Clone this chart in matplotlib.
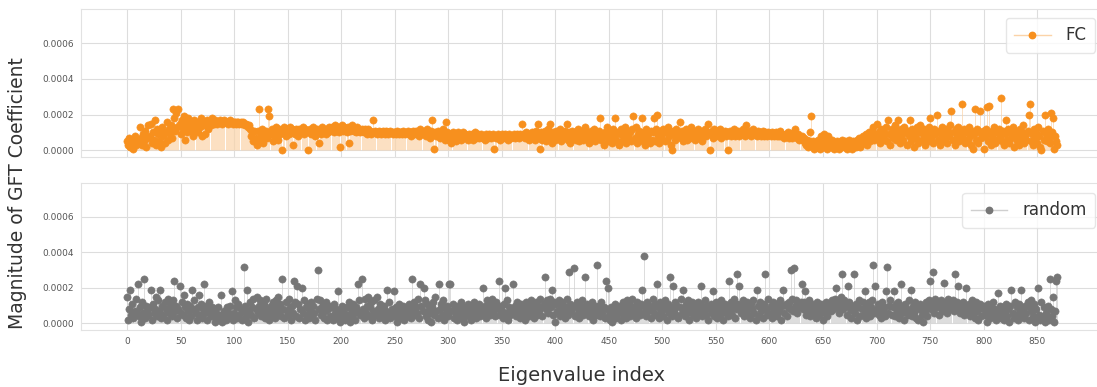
import matplotlib
matplotlib.use("Agg")
import matplotlib.pyplot as plt
from matplotlib.lines import Line2D
import numpy as np

# GFT coefficient magnitudes, in units of 1e-5
fc_vals = [
    5, 3, 7, 2, 6, 4, 1, 8, 3, 5,  6, 4, 13, 7, 3, 9, 5, 11, 2, 7,
    14, 8, 15, 4, 10, 6, 17, 3, 12, 9,  5, 11, 2, 13, 8, 4, 10, 16, 6, 12,
    9, 14, 7, 23, 18, 11, 21, 13, 23, 15,  9, 17, 12, 19, 6, 15, 10, 18, 13, 16,
    11, 14, 8, 17, 12, 15, 10, 16, 13, 18,  8, 14, 16, 9, 15, 17, 12, 16, 14, 18,
    16, 15, 17, 16, 15, 16, 16, 17, 16, 15,  16, 17, 16, 16, 15, 16, 17, 16, 16, 15,
    16, 16, 15, 16, 16, 15, 16, 15, 16, 15,  14, 15, 14, 13, 14, 12, 8, 10, 5, 11,
    7, 3, 11, 23, 6, 9, 12, 4, 10, 8,  11, 7, 23, 19, 9, 12, 5, 10, 8, 13,
    10, 6, 12, 9, 11, 0, 10, 13, 8, 12,  11, 9, 13, 10, 12, 3, 11, 9, 12, 10,
    8, 12, 10, 11, 13, 9, 12, 10, 11, 0,  10, 12, 9, 11, 13, 10, 8, 12, 11, 4,
    11, 9, 13, 10, 12, 11, 9, 12, 10, 13,  11, 13, 12, 10, 14, 12, 11, 13, 10, 2,
    12, 14, 11, 13, 12, 10, 13, 4, 11, 12,  14, 13, 11, 12, 10, 13, 12, 11, 10, 12,
    11, 10, 12, 11, 9, 12, 10, 11, 9, 10,  17, 10, 11, 9, 10, 11, 10, 9, 10, 11,
    10, 9, 11, 10, 9, 10, 11, 10, 9, 10,  10, 9, 11, 10, 9, 10, 10, 9, 11, 10,
    9, 10, 11, 9, 10, 8, 10, 11, 9, 10,  11, 9, 10, 8, 12, 10, 9, 11, 10, 8,
    12, 9, 10, 7, 11, 17, 9, 1, 10, 8,  11, 9, 7, 10, 8, 12, 9, 6, 16, 10,
    8, 6, 9, 4, 10, 7, 9, 5, 8, 10,  7, 9, 6, 8, 10, 7, 9, 8, 6, 9,
    8, 7, 9, 6, 8, 10, 7, 8, 9, 7,  8, 9, 7, 8, 6, 9, 8, 7, 9, 8,
    7, 8, 9, 1, 8, 7, 9, 8, 6, 8,  9, 7, 8, 9, 7, 8, 6, 9, 8, 7,
    8, 9, 7, 8, 9, 8, 7, 9, 8, 15,  8, 9, 7, 10, 8, 6, 9, 8, 10, 7,
    9, 6, 11, 8, 15, 7, 1, 10, 6, 9,  11, 5, 8, 12, 7, 15, 9, 4, 10, 8,
    6, 11, 9, 7, 12, 5, 9, 10, 7, 11,  8, 15, 6, 10, 4, 9, 11, 7, 10, 6,
    9, 12, 5, 10, 8, 11, 6, 9, 13, 7,  10, 4, 8, 11, 6, 9, 12, 5, 10, 8,
    7, 11, 18, 6, 9, 3, 10, 8, 13, 5,  11, 7, 9, 4, 12, 8, 18, 6, 10, 3,
    9, 12, 5, 10, 7, 13, 4, 11, 8, 6,  10, 5, 12, 19, 7, 13, 4, 9, 11, 6,
    8, 18, 5, 10, 3, 12, 7, 9, 4, 11,  6, 10, 18, 5, 12, 20, 8, 4, 11, 7,
    9, 12, 5, 10, 6, 13, 8, 11, 3, 0,  9, 11, 6, 12, 8, 10, 16, 7, 11, 5,
    10, 8, 12, 6, 9, 11, 7, 13, 8, 10,  6, 11, 9, 12, 7, 8, 10, 5, 11, 9,
    12, 8, 10, 15, 0, 9, 11, 7, 12, 10,  8, 11, 9, 10, 12, 7, 10, 9, 11, 8,
    10, 0, 9, 11, 8, 10, 9, 12, 8, 10,  9, 11, 8, 10, 9, 12, 10, 8, 14, 9,
    10, 9, 11, 8, 10, 12, 9, 10, 8, 11,  9, 10, 8, 9, 11, 8, 10, 9, 8, 10,
    9, 8, 10, 9, 8, 9, 10, 8, 9, 8,  11, 8, 9, 8, 7, 9, 8, 10, 7, 8,
    9, 7, 8, 10, 12, 8, 7, 9, 6, 7,  8, 6, 7, 4, 3, 6, 2, 5, 10, 19,
    3, 5, 1, 4, 2, 6, 3, 1, 8, 4,  2, 9, 3, 5, 1, 8, 4, 2, 6, 3,
    1, 4, 2, 5, 3, 1, 4, 2, 6, 3,  2, 5, 1, 3, 6, 2, 4, 1, 5, 3,
    4, 2, 6, 3, 7, 2, 5, 8, 4, 6,  9, 3, 7, 10, 5, 8, 11, 13, 6, 9,
    15, 7, 10, 4, 12, 8, 11, 6, 9, 13,  5, 17, 9, 3, 12, 7, 10, 14, 6, 11,
    17, 8, 4, 12, 9, 6, 13, 10, 3, 11,  8, 17, 5, 12, 9, 2, 11, 7, 13, 4,
    10, 14, 6, 9, 12, 3, 8, 11, 5, 13,  18, 7, 10, 4, 12, 9, 20, 6, 11, 3,
    9, 13, 5, 10, 7, 12, 4, 11, 8, 14,  22, 6, 10, 3, 12, 8, 13, 5, 9, 11,
    26, 7, 12, 4, 10, 6, 13, 8, 3, 11,  1, 9, 23, 6, 12, 4, 10, 22, 7, 11,
    1, 8, 12, 24, 5, 25, 9, 3, 11, 7,  13, 4, 10, 6, 12, 8, 29, 5, 11, 3,
    9, 17, 6, 12, 4, 10, 7, 13, 2, 8,  11, 5, 9, 3, 12, 7, 10, 14, 4, 8,
    6, 11, 20, 26, 5, 9, 3, 12, 7, 10,  4, 13, 8, 2, 0, 11, 6, 20, 9, 5,
    12, 7, 4, 21, 10, 18, 1, 8, 5, 3,
]

random_vals = [
    15, 2, 8, 19, 5, 11, 3, 7, 14, 6,  22, 4, 9, 1, 12, 6, 25, 3, 10, 7,
    5, 9, 19, 2, 11, 6, 8, 15, 4, 13,  7, 19, 3, 10, 5, 12, 8, 2, 14, 6,
    9, 11, 4, 13, 24, 7, 10, 3, 8, 21,  6, 12, 5, 16, 9, 3, 11, 7, 2, 10,
    4, 19, 8, 13, 6, 2, 9, 16, 5, 11,  3, 8, 22, 6, 10, 2, 7, 12, 4, 9,
    5, 8, 1, 6, 3, 9, 2, 5, 16, 1,  4, 7, 2, 9, 3, 6, 10, 4, 18, 2,
    6, 13, 9, 3, 11, 5, 8, 2, 7, 32,  10, 4, 19, 1, 7, 12, 5, 9, 14, 3,
    8, 15, 6, 10, 13, 4, 9, 7, 11, 3,  14, 6, 8, 2, 10, 5, 12, 7, 3, 13,
    9, 15, 6, 11, 4, 25, 8, 3, 12, 7,  5, 14, 9, 2, 10, 6, 24, 12, 4, 21,
    11, 3, 8, 20, 6, 13, 2, 9, 5, 11,  3, 7, 12, 4, 10, 6, 2, 14, 30, 8,
    13, 5, 9, 11, 3, 7, 12, 2, 8, 10,  4, 9, 2, 11, 6, 8, 3, 18, 5, 1,
    7, 10, 3, 6, 2, 9, 5, 12, 1, 8,  4, 11, 6, 2, 9, 7, 22, 13, 5, 25,
    8, 3, 14, 6, 10, 15, 4, 9, 12, 2,  7, 13, 5, 15, 8, 3, 11, 6, 9, 4,
    10, 2, 7, 19, 5, 12, 3, 8, 6, 18,  4, 9, 1, 7, 11, 3, 8, 5, 10, 2,
    6, 9, 4, 11, 7, 3, 25, 8, 12, 5,  9, 6, 14, 3, 22, 10, 7, 20, 13, 4,
    11, 2, 8, 6, 1, 9, 12, 5, 15, 7,  3, 22, 8, 11, 5, 13, 2, 9, 6, 10,
    4, 22, 22, 7, 11, 3, 9, 6, 2, 10,  5, 8, 12, 3, 7, 1, 9, 4, 11, 6,
    8, 2, 10, 5, 12, 7, 3, 9, 6, 11,  4, 8, 20, 6, 10, 3, 13, 7, 9, 5,
    11, 14, 6, 9, 4, 12, 8, 24, 5, 10,  7, 3, 11, 20, 6, 13, 2, 9, 5, 8,
    22, 7, 10, 4, 12, 6, 9, 3, 11, 8,  5, 10, 2, 12, 7, 4, 9, 13, 6, 11,
    3, 8, 12, 5, 10, 7, 14, 9, 4, 11,  26, 8, 13, 6, 10, 14, 9, 19, 5, 12,
    1, 11, 7, 13, 4, 9, 12, 6, 10, 3,  8, 14, 5, 29, 11, 7, 10, 31, 4, 9,
    12, 6, 3, 10, 8, 13, 5, 9, 26, 7,  11, 4, 9, 6, 12, 2, 8, 10, 5, 33,
    7, 10, 4, 12, 6, 9, 3, 24, 8, 20,  5, 2, 9, 1, 7, 4, 11, 3, 8, 6,
    10, 2, 7, 12, 5, 9, 3, 13, 6, 11,  4, 8, 14, 6, 10, 3, 12, 7, 9, 5,
    11, 19, 6, 38, 9, 4, 12, 7, 10, 3,  8, 14, 6, 11, 5, 22, 9, 3, 12, 7,
    10, 4, 13, 8, 2, 11, 6, 26, 9, 4,  21, 7, 12, 5, 10, 3, 9, 14, 6, 19,
    8, 4, 11, 6, 13, 2, 9, 7, 12, 5,  10, 3, 8, 12, 6, 11, 21, 4, 9, 7,
    13, 5, 10, 2, 8, 11, 6, 18, 4, 9,  12, 3, 7, 10, 5, 13, 8, 2, 11, 6,
    9, 4, 24, 7, 12, 5, 10, 14, 3, 8,  28, 11, 21, 6, 9, 13, 4, 10, 7, 12,
    5, 9, 3, 11, 8, 13, 6, 2, 19, 10,  4, 12, 7, 9, 3, 11, 28, 8, 5, 14,
    6, 10, 3, 12, 8, 5, 11, 4, 9, 7,  13, 2, 10, 19, 6, 11, 4, 9, 12, 8,
    30, 14, 7, 31, 10, 13, 6, 11, 9, 12,  22, 8, 12, 18, 5, 10, 7, 13, 4, 9,
    11, 6, 10, 3, 12, 8, 5, 9, 11, 7,  2, 10, 6, 12, 4, 9, 11, 7, 13, 8,
    10, 14, 20, 9, 12, 6, 11, 15, 28, 8,  13, 10, 5, 21, 12, 8, 3, 10, 7, 28,
    6, 11, 2, 9, 13, 4, 8, 12, 5, 18,  3, 10, 7, 12, 4, 9, 13, 33, 6, 21,
    8, 11, 5, 10, 3, 12, 7, 9, 4, 18,  32, 6, 10, 13, 5, 9, 18, 4, 11, 7,
    12, 3, 9, 22, 6, 10, 2, 11, 8, 5,  13, 7, 19, 4, 10, 6, 12, 3, 9, 2,
    8, 11, 5, 1, 10, 7, 12, 4, 9, 13,  24, 8, 11, 29, 6, 14, 9, 12, 5, 10,
    13, 7, 11, 23, 9, 12, 6, 14, 10, 8,  11, 13, 7, 28, 10, 12, 21, 9, 6, 11,
    8, 12, 5, 10, 20, 7, 11, 4, 9, 13,  6, 10, 3, 12, 7, 2, 9, 11, 4, 8,
    10, 5, 8, 1, 11, 6, 3, 9, 7, 12,  4, 8, 2, 17, 6, 10, 3, 9, 5, 2,
    7, 11, 4, 8, 1, 10, 19, 6, 3, 12,  5, 9, 2, 11, 7, 19, 4, 8, 3, 10,
    6, 12, 2, 9, 13, 7, 4, 11, 1, 8,  3, 20, 5, 2, 12, 4, 9, 1, 6, 3,
    10, 2, 25, 8, 4, 15, 1, 7, 24, 26,
]

series_labels = ["FC", "random"]
series_colors = ["#f7901e", "#767676"]
stem_colors = ["#fbd3a8", "#cfcfcf"]
xtick_vals = list(range(0, 851, 50))
ytick_vals = [0, 0.0002, 0.0004, 0.0006]

fig = plt.figure(figsize=(10.97, 3.87), dpi=100)
ax_top = fig.add_axes([0.0734, 0.5943, 0.933, 0.3824])
ax_bot = fig.add_axes([0.0734, 0.1473, 0.933, 0.3798])

legend_y = [1 - 18 / 387, 1 - 193 / 387]

for ax, vals, label, col, scol, ly in zip(
        [ax_top, ax_bot], [fc_vals, random_vals], series_labels,
        series_colors, stem_colors, legend_y):
    y = np.array(vals) * 1e-5
    x = np.arange(len(y))
    ax.vlines(x, 0, y, color=scol, lw=0.5, zorder=2)
    ax.plot(x, y, 'o', color=col, markersize=5.2, markeredgewidth=0.4,
            zorder=3)

    ax.set_xlim(-0.05 * (len(y) - 1), 1.05 * (len(y) - 1))
    ax.set_ylim(-0.000037, 0.00079)
    ax.set_xticks(xtick_vals)
    ax.set_yticks(ytick_vals)
    ax.set_yticklabels(["%.4f" % v for v in ytick_vals])
    ax.grid(True, color="#dddddd", lw=0.8)
    ax.set_axisbelow(True)
    for s in ax.spines.values():
        s.set_color("#e2e2e2")
        s.set_linewidth(0.8)
    ax.tick_params(length=0, labelsize=6.5, labelcolor="#555555", pad=5)

    handle = Line2D([], [], color=scol, lw=1.0, marker='o', markersize=4.6,
                    markerfacecolor=col, markeredgecolor=col)
    ax.legend([handle], [label], loc="upper right",
              bbox_to_anchor=(1095 / 1097, ly), bbox_transform=fig.transFigure,
              borderaxespad=0, fontsize=12, frameon=True, fancybox=True,
              edgecolor="#e0e0e0", handlelength=2.2, handletextpad=0.9,
              borderpad=0.5, labelcolor="#333333")

ax_top.tick_params(labelbottom=False)

fig.text(0.016, 0.5, "Magnitude of GFT Coefficient", rotation=90,
         ha="center", va="center", fontsize=13.5, color="#333333")
fig.text(0.53, 0.03, "Eigenvalue index", ha="center", va="center",
         fontsize=14, color="#333333")

fig.savefig("out.png", dpi=100)
